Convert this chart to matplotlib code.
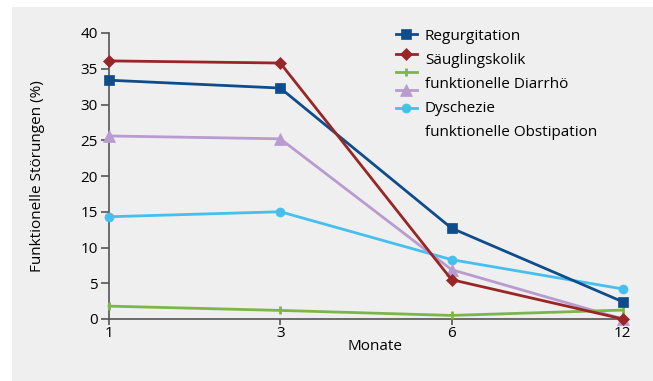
import matplotlib
matplotlib.use("Agg")
import matplotlib.pyplot as plt
from matplotlib.lines import Line2D
from matplotlib.patches import Rectangle

plt.rcParams['font.family'] = ['Open Sans', 'DejaVu Sans']

monate = ["1", "3", "6", "12"]
regurgitation = [33.4, 32.3, 12.7, 2.4]
koliken = [36.1, 35.8, 5.5, 0.0]
diarrhoe = [1.8, 1.2, 0.5, 1.25]
lila = [25.6, 25.2, 6.9, 0.0]
dyschezie = [14.3, 15.0, 8.3, 4.2]

legend_labels = ["Regurgitation", "Säuglingskolik", "funktionelle Diarrhö",
                 "Dyschezie", "funktionelle Obstipation"]

farben = ["#0d4d8c", "#982626", "#7cb648", "#b99bcf", "#45bfee"]
marker = ["s", "D", "|", "^", "o"]
msize = [6.5, 6.5, 6, 8, 6.5]
serien = [regurgitation, koliken, diarrhoe, lila, dyschezie]

W, H = 653, 381
fs = 11
fig = plt.figure(figsize=(W / 100, H / 100), dpi=100)
fig.patch.set_facecolor("white")
fig.add_artist(Rectangle((12 / W, 0), 1 - 12 / W, 1 - 7 / H, transform=fig.transFigure,
                         facecolor="#efefef", edgecolor="none", zorder=0))

ax = fig.add_axes([109 / W, 1 - 319 / H, (628 - 109) / W, (319 - 33) / H])
ax.set_facecolor("none")

x = list(range(len(monate)))
order = [4, 3, 2, 0, 1]
for i in order:
    ax.plot(x, serien[i], color=farben[i], lw=2.0, marker=marker[i], ms=msize[i],
            mew=2 if marker[i] == "|" else 0.5, mec=farben[i], clip_on=False, zorder=3)

ax.set_xlim(0, 3.03)
ax.set_ylim(0, 40)
ax.set_xticks(x)
ax.set_xticklabels(monate)
ax.set_yticks(range(0, 41, 5))
for s in ["top", "right"]:
    ax.spines[s].set_visible(False)
for s in ["left", "bottom"]:
    ax.spines[s].set_color("#555555")
    ax.spines[s].set_linewidth(1.2)
ax.tick_params(axis="y", length=6, width=1.2, color="#555555", labelsize=fs, pad=2)
ax.tick_params(axis="x", length=4, width=1.2, color="#555555", labelsize=fs, pad=1)
ax.set_ylabel("Funktionelle Störungen (%)", fontsize=fs)
ax.yaxis.set_label_coords((45 - 109) / 519, 0.5)
ax.text(375 / W, 1 - 347 / H, "Monate", transform=fig.transFigure, fontsize=fs,
        ha="center", va="center")

# Legende (Symbole und Texte sind im Original gegeneinander verschoben)
handle_y = [34, 54, 72, 90, 108]
label_y = [36, 60, 84, 108, 132]
for i in range(5):
    yy = 1 - handle_y[i] / H
    fig.add_artist(Line2D([396 / W, 417 / W], [yy, yy], transform=fig.transFigure,
                          color=farben[i], lw=2.0))
    fig.add_artist(Line2D([406.5 / W], [yy], transform=fig.transFigure, color=farben[i],
                          marker=marker[i], ms=msize[i], mew=2 if marker[i] == "|" else 0.5,
                          mec=farben[i]))
for i, lab in enumerate(legend_labels):
    fig.text(425 / W, 1 - label_y[i] / H, lab, fontsize=fs, va="center", ha="left")

fig.savefig("out.png", dpi=100)
